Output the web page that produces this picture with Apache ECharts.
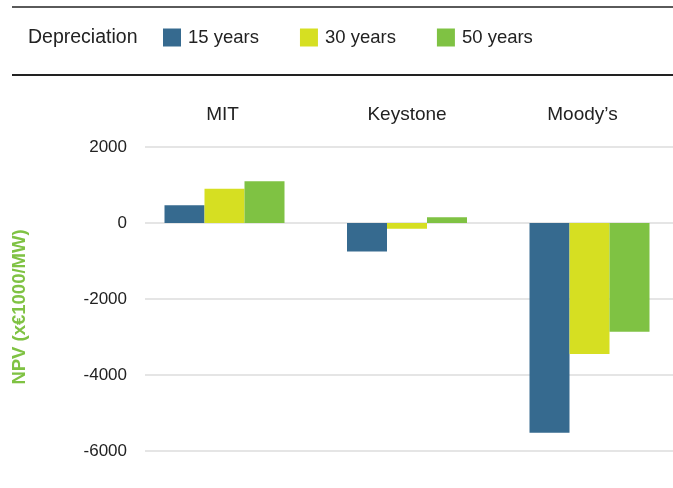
<!DOCTYPE html>
<html>
<head>
<meta charset="utf-8">
<script src="https://cdn.jsdelivr.net/npm/echarts@6/dist/echarts.min.js"></script>
<style>
html,body{margin:0;padding:0;background:#fff;}
#chart{width:673px;height:488px;}
</style>
</head>
<body>
<div id="chart"></div>
<script>
const categories = ['MIT', 'Keystone', 'Moody\u2019s'];
const seriesNames = ['15 years', '30 years', '50 years'];
const years15 = [470, -750, -5520];
const years30 = [900, -150, -3450];
const years50 = [1100, 150, -2860];
const yTicks = { min: -6000, max: 2000, interval: 2000 };
const yAxisTitle = 'NPV (x\u20ac1000/MW)';
const legendTitle = 'Depreciation';
const colors = ['#366a8f', '#d6df22', '#7fc243'];
const FONT = "'Liberation Sans', Arial, Helvetica, sans-serif";

const chart = echarts.init(document.getElementById('chart'));
const values = [years15, years30, years50];
const labelShift = [4, 0, 14];

chart.setOption({
  animation: false,
  backgroundColor: '#fff',
  textStyle: { fontFamily: FONT },
  graphic: [
    { type: 'line', shape: { x1: 12, y1: 7, x2: 673, y2: 7 }, style: { stroke: '#5a5a5a', lineWidth: 2 } },
    { type: 'line', shape: { x1: 12, y1: 75, x2: 673, y2: 75 }, style: { stroke: '#222', lineWidth: 2 } },
    { type: 'text', x: 28, y: 38, style: { text: legendTitle, font: '19.5px ' + FONT, fill: '#222', verticalAlign: 'middle' } },
    { type: 'text', x: 20, y: 307, rotation: Math.PI / 2,
      style: { text: yAxisTitle, font: 'bold 18.5px ' + FONT, fill: '#7fc243', align: 'center', verticalAlign: 'middle' } }
  ],
  legend: {
    data: seriesNames,
    left: 163, top: 28,
    itemWidth: 18, itemHeight: 18, itemGap: 41,
    icon: 'rect',
    padding: 0,
    textStyle: { fontSize: 18.5, color: '#222', fontFamily: FONT, padding: [0, 0, 0, 2] }
  },
  grid: [
    { left: 145, right: 0, top: 147, bottom: 37, containLabel: false },
    { left: 224.5, width: 365, top: 147, bottom: 37, containLabel: false }
  ],
  xAxis: [
    { gridIndex: 0, type: 'category', data: categories, show: false },
    {
      gridIndex: 1, type: 'category', data: categories, position: 'top', boundaryGap: false,
      axisLine: { show: false }, axisTick: { show: false }, splitLine: { show: false },
      axisLabel: {
        margin: 23,
        formatter: (v, idx) => '{c' + idx + '|' + v + '}',
        rich: {
          c0: { fontSize: 19, color: '#222', fontFamily: FONT, padding: [0, labelShift[0], 0, 0] },
          c1: { fontSize: 19, color: '#222', fontFamily: FONT, padding: [0, labelShift[1], 0, 0] },
          c2: { fontSize: 19, color: '#222', fontFamily: FONT, padding: [0, labelShift[2], 0, 0] }
        }
      }
    }
  ],
  yAxis: [
    {
      gridIndex: 0, type: 'value', min: yTicks.min, max: yTicks.max, interval: yTicks.interval,
      axisLine: { show: false }, axisTick: { show: false },
      axisLabel: { fontSize: 17, color: '#222', margin: 18, fontFamily: FONT, formatter: v => String(v) },
      splitLine: { lineStyle: { color: '#dcdcdc', width: 1.5 } }
    },
    {
      gridIndex: 1, type: 'value', min: yTicks.min, max: yTicks.max, interval: yTicks.interval,
      show: false, splitLine: { show: false }
    }
  ],
  series: seriesNames.map((name, i) => ({
    name: name,
    type: 'bar',
    xAxisIndex: 1, yAxisIndex: 1,
    data: values[i],
    barWidth: 40,
    barGap: '0%',
    clip: false,
    itemStyle: { color: colors[i] }
  }))
});
</script>
</body>
</html>
